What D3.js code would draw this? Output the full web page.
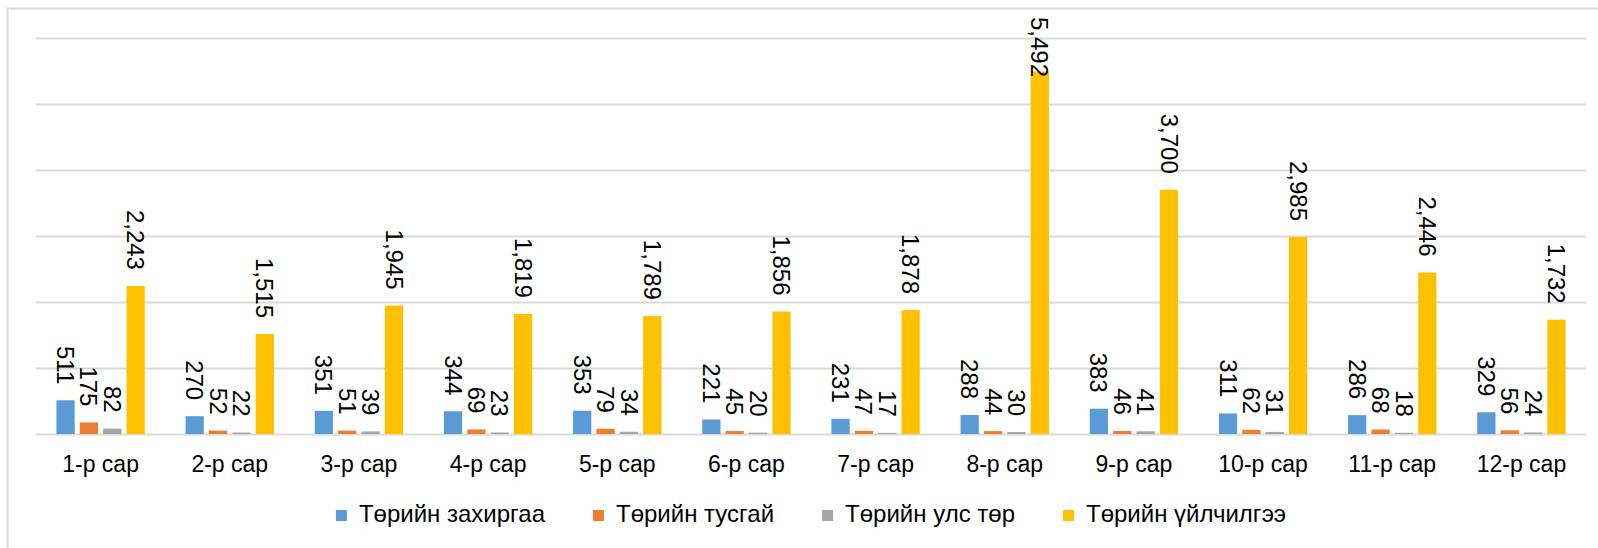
<!DOCTYPE html>
<html lang="mn">
<head>
    <meta charset="UTF-8">
    <title>Төрийн албан хаагчид сараар</title>
    <script src="https://d3js.org/d3.v7.min.js"></script>
    <style>
        body {
            margin: 0;
            padding: 0;
            background-color: white;
            font-family: 'Liberation Sans', Arial, sans-serif;
        }

        #chart {
            width: 1598px;
            height: 548px;
            overflow: hidden;
        }

        .grid line {
            stroke: #d9d9d9;
            stroke-width: 2px;
        }

        .value-label {
            font-size: 24px;
            fill: #000;
        }

        .x-axis text {
            font-size: 23px;
            fill: #000;
        }

        .legend text {
            font-size: 24px;
            fill: #000;
        }
    </style>
</head>
<body>
    <div id="chart"></div>

    <script type="text/javascript">
        var months = ['1-р сар', '2-р сар', '3-р сар', '4-р сар', '5-р сар', '6-р сар',
                      '7-р сар', '8-р сар', '9-р сар', '10-р сар', '11-р сар', '12-р сар'];
        var seriesNames = ['Төрийн захиргаа', 'Төрийн тусгай', 'Төрийн улс төр', 'Төрийн үйлчилгээ'];
        var zakhirgaa = [511, 270, 351, 344, 353, 221, 231, 288, 383, 311, 286, 329];
        var tusgai = [175, 52, 51, 69, 79, 45, 47, 44, 46, 62, 68, 56];
        var ulsTor = [82, 22, 39, 23, 34, 20, 17, 30, 41, 31, 18, 24];
        var uilchilgee = [2243, 1515, 1945, 1819, 1789, 1856, 1878, 5492, 3700, 2985, 2446, 1732];
        var yTicks = [0, 1000, 2000, 3000, 4000, 5000, 6000];

        var seriesValues = [zakhirgaa, tusgai, ulsTor, uilchilgee];
        var colors = ['#5b9bd5', '#ed7d31', '#a5a5a5', '#ffc000'];

        var width = 1598, height = 548;
        var plot = { left: 36, right: 1586, top: 38, bottom: 434 };

        var svg = d3.select("#chart")
            .append("svg")
            .attr("width", width)
            .attr("height", height);

        // outer frame (right and bottom edges fall outside the picture)
        svg.append("rect")
            .attr("x", 7.5)
            .attr("y", 8.5)
            .attr("width", width + 20)
            .attr("height", height + 20)
            .attr("fill", "none")
            .attr("stroke", "#d9d9d9")
            .attr("stroke-width", 2);

        var x0 = d3.scaleBand()
            .domain(months)
            .range([plot.left, plot.right])
            .paddingInner(0.316)
            .paddingOuter(0.158);

        var x1 = d3.scaleBand()
            .domain(seriesNames)
            .range([0, x0.bandwidth()])
            .paddingInner(0.22);

        var y = d3.scaleLinear()
            .domain([0, 6000])
            .range([plot.bottom, plot.top]);

        svg.append("g")
            .attr("class", "grid")
            .attr("transform", "translate(" + plot.left + ",0)")
            .call(d3.axisLeft(y).tickValues(yTicks).tickSize(-(plot.right - plot.left)).tickFormat(""))
            .call(function (g) { g.select(".domain").remove(); });

        var xAxis = svg.append("g")
            .attr("class", "x-axis")
            .attr("transform", "translate(0," + plot.bottom + ")")
            .call(d3.axisBottom(x0).tickSize(0).tickPadding(22));
        xAxis.select(".domain").remove();
        xAxis.selectAll("text")
            .attr("font-family", "'Liberation Sans', Arial, sans-serif")
            .attr("dy", "0.71em");

        var rows = months.map(function (m, i) {
            return seriesNames.map(function (s, j) {
                return { month: m, series: s, value: seriesValues[j][i], color: colors[j] };
            });
        });

        var groups = svg.selectAll(".group")
            .data(rows)
            .enter()
            .append("g")
            .attr("class", "group")
            .attr("transform", function (d, i) { return "translate(" + x0(months[i]) + ",0)"; });

        groups.selectAll("rect")
            .data(function (d) { return d; })
            .enter()
            .append("rect")
            .attr("x", function (d) { return x1(d.series); })
            .attr("y", function (d) { return y(d.value); })
            .attr("width", x1.bandwidth())
            .attr("height", function (d) { return plot.bottom - y(d.value); })
            .attr("fill", function (d) { return d.color; });

        // rotated value labels above the bars, kept inside the frame
        groups.selectAll(".value-label")
            .data(function (d) { return d; })
            .enter()
            .append("text")
            .attr("class", "value-label")
            .attr("text-anchor", "end")
            .attr("dy", "0.35em")
            .text(function (d) { return d3.format(",")(d.value); })
            .each(function (d) {
                var len = this.getComputedTextLength();
                var cx = x1(d.series) + x1.bandwidth() / 2;
                var endY = Math.max(y(d.value) - 16, 17 + len);
                d3.select(this).attr("transform", "translate(" + cx + "," + endY + ") rotate(90)");
            });

        // legend
        var legend = svg.append("g").attr("class", "legend");
        var items = legend.selectAll("g")
            .data(seriesNames)
            .enter()
            .append("g");
        items.append("rect")
            .attr("width", 11)
            .attr("height", 11)
            .attr("y", 510)
            .attr("fill", function (d, i) { return colors[i]; });
        items.append("text")
            .attr("x", 23)
            .attr("y", 522)
            .text(function (d) { return d; });

        var gap = 48;
        var offset = 0;
        var offsets = [];
        items.each(function (d, i) {
            offsets.push(offset);
            offset += 23 + this.querySelector("text").getComputedTextLength() + gap;
        });
        var total = offset - gap;
        var startX = (plot.left + plot.right) / 2 - total / 2;
        items.attr("transform", function (d, i) { return "translate(" + (startX + offsets[i]) + ",0)"; });
    </script>
</body>
</html>
